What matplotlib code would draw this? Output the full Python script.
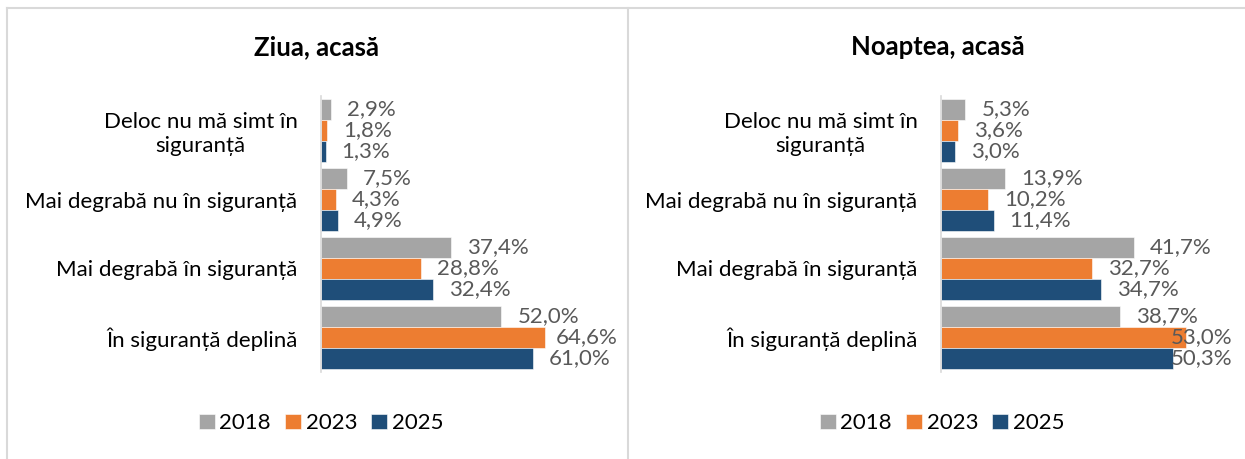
import numpy as np
import matplotlib.pyplot as plt
from matplotlib.lines import Line2D
from matplotlib.transforms import offset_copy, blended_transform_factory

plt.rcParams['font.family'] = ['Lato', 'DejaVu Sans']

# Data
categories = ['Deloc nu mă simt în\nsiguranță', 'Mai degrabă nu în siguranță',
              'Mai degrabă în siguranță', 'În siguranță deplină']
years = ['2018', '2023', '2025']
colors = ['#A5A5A5', '#ED7D31', '#1F4E79']

day_2018 = [2.9, 7.5, 37.4, 52.0]
day_2023 = [1.8, 4.3, 28.8, 64.6]
day_2025 = [1.3, 4.9, 32.4, 61.0]

night_2018 = [5.3, 13.9, 41.7, 38.7]
night_2023 = [3.6, 10.2, 32.7, 53.0]
night_2025 = [3.0, 11.4, 34.7, 50.3]

W, H = 1245, 459
fig = plt.figure(figsize=(W / 100, H / 100), dpi=100)

FS = 16
label_color = '#595959'


def px(x0, y0, x1, y1):
    """Pixel box (top-left origin) -> figure fraction rect."""
    return [x0 / W, 1 - y1 / H, (x1 - x0) / W, (y1 - y0) / H]


def panel(rect, xmax, series, title, title_x, legend_x):
    ax = fig.add_axes(rect)
    y = np.arange(len(categories))
    h = 0.304
    bars = []
    for i, (vals, col, yr) in enumerate(zip(series, colors, years)):
        b = ax.barh(y + (i - 1) * h, vals, height=h, color=col,
                    edgecolor='white', linewidth=0.4, label=yr)
        bars.append(b)
    ax.set_xlim(0, xmax)
    ax.set_ylim(len(categories) - 0.5, -0.5)
    ax.set_yticks(y)
    ax.set_yticklabels(categories, fontsize=FS, color='black', multialignment='center')
    ax.tick_params(axis='y', length=0, pad=17)
    ax.set_xticks([])
    for s in ['top', 'right', 'bottom']:
        ax.spines[s].set_visible(False)
    ax.spines['left'].set_color('#D9D9D9')
    ax.spines['left'].set_linewidth(1.2)

    # value labels, pushed inside the plot area if they would overflow
    trans = offset_copy(ax.transData, fig=fig, x=16, y=0, units='dots')
    edge = blended_transform_factory(ax.transAxes, ax.transData)
    renderer = fig.canvas.get_renderer()
    ax_right = ax.get_window_extent(renderer).x1
    for i, vals in enumerate(series):
        for yi, v in zip(y, vals):
            yy = yi + (i - 1) * h
            t = ax.text(v, yy, f'{v:.1f}%'.replace('.', ','), transform=trans,
                        ha='left', va='center', fontsize=FS, color=label_color,
                        clip_on=False)
            if t.get_window_extent(renderer).x1 > ax_right:
                t.set_transform(edge)
                t.set_position((1.0, yy))
                t.set_ha('right')

    fig.text(title_x, 1 - 47 / H, title, ha='center', va='center',
             fontsize=18.5, fontweight='bold', color='black')
    fig.legend(handles=bars, labels=years, loc='center',
               bbox_to_anchor=(legend_x, 1 - 423 / H), ncol=3, frameon=False,
               fontsize=FS, handlelength=0.72, handleheight=0.65,
               handletextpad=0.2, columnspacing=0.65, labelcolor='black')
    return ax


panel(px(321, 96, 618, 372), (618 - 321) / 3.47,
      [day_2018, day_2023, day_2025], 'Ziua, acasă', 317 / W, 321 / W)
panel(px(941, 96, 1232, 372), (1232 - 941) / 4.62,
      [night_2018, night_2023, night_2025], 'Noaptea, acasă', 938 / W, 942 / W)

# panel frames
frame = dict(color='#D9D9D9', linewidth=1.5, transform=fig.transFigure)
fig.add_artist(Line2D([7 / W, 1], [1 - 8 / H, 1 - 8 / H], **frame))
fig.add_artist(Line2D([7 / W, 7 / W], [0, 1 - 8 / H], **frame))
fig.add_artist(Line2D([627.5 / W, 627.5 / W], [0, 1 - 8 / H], **frame))

fig.savefig('out.png', dpi=100)
